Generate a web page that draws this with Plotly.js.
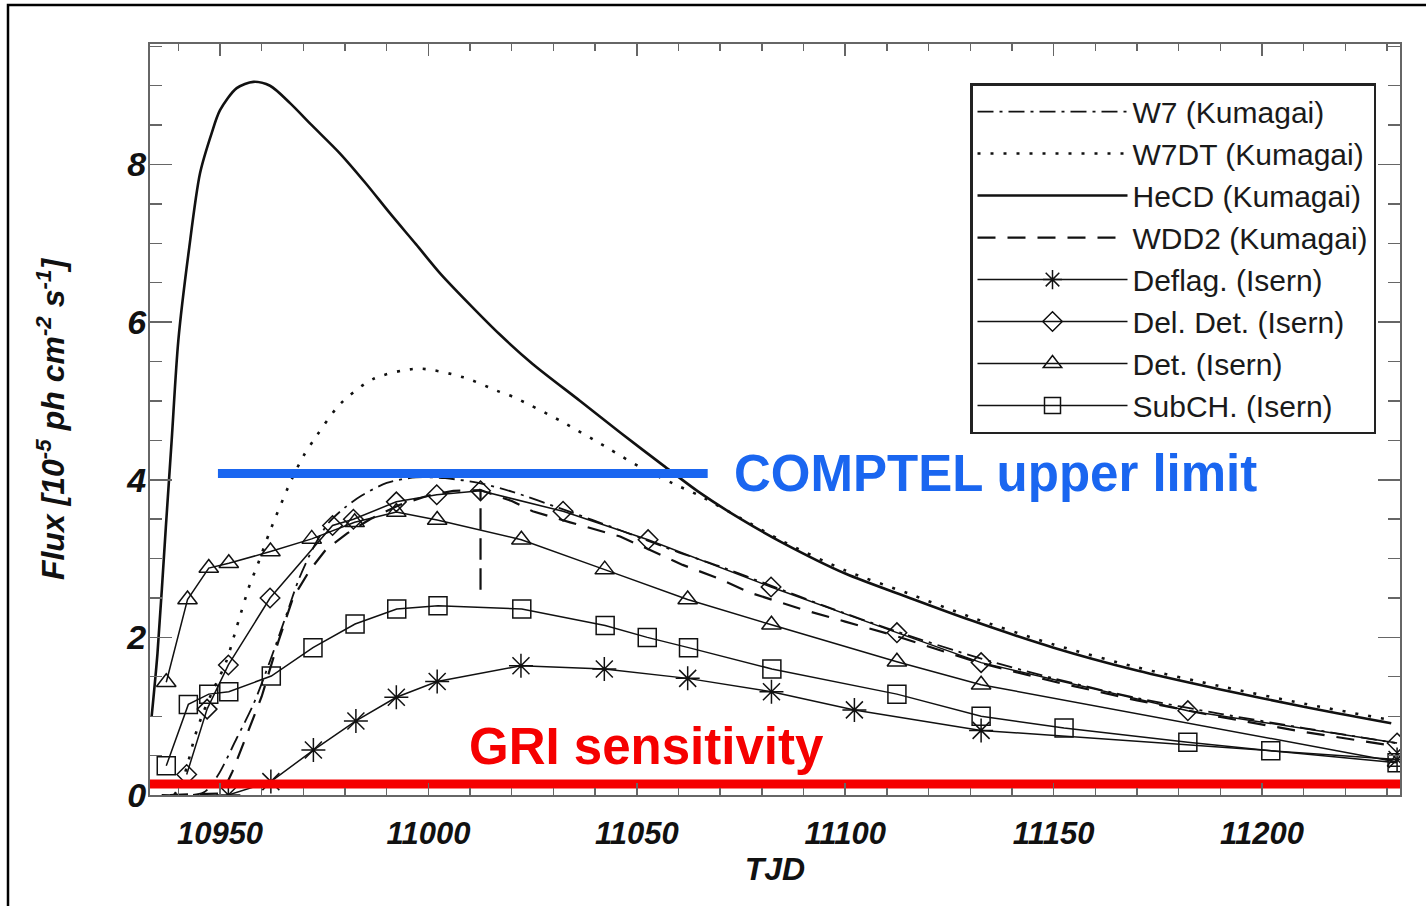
<!DOCTYPE html>
<html>
<head>
<meta charset="utf-8">
<script src="https://cdn.plot.ly/plotly-3.0.1.min.js"></script>
<style>html,body{margin:0;padding:0;background:#fff;}#chart{width:1426px;height:906px;}</style>
</head>
<body>
<div id="chart"></div>
<script>
// ---------- data (TJD, flux in 1e-5 ph cm^-2 s^-1) ----------
const w7X   = [10936, 10946, 10949.5, 10954, 10958, 10962, 10966, 10969, 10972.5, 10976, 10980, 10984, 10990, 10997, 11004, 11012, 11020, 11032, 11046, 11060, 11070, 11082, 11095, 11112, 11132, 11150, 11170, 11190, 11210, 11232];
const w7Y   = [0.0, 0.03, 0.25, 0.72, 1.15, 1.7, 2.3, 2.75, 3.15, 3.45, 3.65, 3.8, 3.96, 4.03, 4.02, 3.96, 3.85, 3.63, 3.36, 3.08, 2.9, 2.66, 2.4, 2.08, 1.74, 1.48, 1.23, 1.03, 0.85, 0.66];

const w7dtX = [10939, 10940.5, 10942, 10944, 10946, 10948.5, 10951.4, 10954, 10957.2, 10958.8, 10962, 10966.8, 10970, 10973.2, 10978.8, 10986.8, 10997.5, 11008.4, 11016.4, 11020.4, 11031.6, 11042.8, 11050.8, 11058.8, 11065, 11075, 11085, 11100, 11115, 11130, 11150, 11170, 11190, 11210, 11231];
const w7dtY = [0.0, 0.12, 0.35, 0.75, 1.05, 1.35, 1.68, 2.13, 2.68, 2.89, 3.35, 3.96, 4.3, 4.56, 4.96, 5.28, 5.41, 5.30, 5.13, 5.05, 4.75, 4.41, 4.16, 3.95, 3.8, 3.51, 3.22, 2.85, 2.56, 2.26, 1.91, 1.62, 1.38, 1.16, 0.95];

const hecdX = [10933.6, 10935, 10937, 10938.4, 10940, 10942.5, 10945.2, 10948, 10950, 10954, 10958, 10962, 10966.8, 10972, 10978.8, 10985, 10990.8, 10997, 11002.8, 11010, 11017.2, 11025, 11036.4, 11046, 11056.4, 11065, 11075, 11085, 11100, 11115, 11130, 11150, 11170, 11190, 11210, 11231];
const hecdY = [1.0, 1.8, 3.4, 4.5, 5.77, 6.9, 7.89, 8.4, 8.69, 8.97, 9.05, 9.0, 8.78, 8.5, 8.14, 7.76, 7.38, 6.99, 6.62, 6.22, 5.84, 5.47, 5.0, 4.6, 4.18, 3.84, 3.5, 3.2, 2.81, 2.51, 2.22, 1.87, 1.58, 1.34, 1.12, 0.91];

const wdd2X = [10938, 10950.5, 10953, 10956, 10960, 10964, 10967.5, 10971.5, 10975.5, 10980.5, 10986, 10993, 11000, 11006, 11012.5, 11012.5, 11012.5, 11020, 11025, 11034, 11046, 11061, 11070, 11077, 11090, 11100, 11112, 11132, 11150, 11170, 11190, 11210, 11232];
const wdd2Y = [0.0, 0.02, 0.3, 0.7, 1.25, 1.95, 2.5, 2.85, 3.12, 3.32, 3.5, 3.68, 3.8, 3.86, 3.87, 2.55, 3.87, 3.73, 3.6, 3.46, 3.28, 2.92, 2.74, 2.57, 2.35, 2.2, 2.02, 1.68, 1.44, 1.2, 0.99, 0.8, 0.62];

const deflagX = [10952, 10962.2, 10972.4, 10982.6, 10992.3, 11002.1, 11022.2, 11042.2, 11062.2, 11082.3, 11102.2, 11132.6, 11232.4];
const deflagY = [0.0, 0.17, 0.57, 0.94, 1.24, 1.44, 1.64, 1.60, 1.48, 1.31, 1.08, 0.82, 0.45];

const deldetX = [10942, 10946.9, 10952, 10962, 10977, 10982, 10992.3, 11002, 11012.5, 11032.3, 11052.7, 11082.2, 11112.4, 11132.6, 11182.2, 11232.4];
const deldetY = [0.26, 1.09, 1.65, 2.50, 3.42, 3.50, 3.72, 3.81, 3.86, 3.60, 3.24, 2.64, 2.06, 1.68, 1.07, 0.66];

const detX = [10937.1, 10942.2, 10947.3, 10952.1, 10962.1, 10972, 10982.3, 10992.3, 11002.1, 11022.3, 11042.3, 11062.2, 11082.3, 11112.4, 11132.6, 11232.4];
const detY = [1.43, 2.48, 2.88, 2.94, 3.09, 3.25, 3.46, 3.59, 3.49, 3.24, 2.86, 2.48, 2.16, 1.69, 1.40, 0.42];

const subchX = [10937.1, 10942.4, 10947.3, 10952.1, 10962.3, 10972.3, 10982.4, 10992.4, 11002.3, 11022.4, 11042.4, 11052.5, 11062.4, 11082.4, 11112.4, 11132.6, 11152.5, 11182.2, 11202.1, 11232.4];
const subchY = [0.37, 1.15, 1.28, 1.31, 1.51, 1.87, 2.17, 2.36, 2.40, 2.36, 2.15, 2.00, 1.87, 1.60, 1.28, 1.00, 0.85, 0.67, 0.56, 0.41];

const comptelX = [10949.5, 11067];
const comptelY = [4.08, 4.08];
const griX = [10933.2, 11233.1];
const griY = [0.14, 0.14];

const seriesNames = ["W7 (Kumagai)", "W7DT (Kumagai)", "HeCD (Kumagai)", "WDD2 (Kumagai)",
                     "Deflag. (Isern)", "Del. Det. (Isern)", "Det. (Isern)", "SubCH. (Isern)"];
const comptelLabel = "COMPTEL upper limit";
const griLabel = "GRI sensitivity";
const xRange = [10933.2, 11233.1];
const yRange = [0, 9.53];

// ---------- styling ----------
const ink = '#111';
const sans = '"Liberation Sans", Arial, sans-serif';

function kum(x, y, name, dash, w, shape) {
  return {x: x, y: y, name: name, type: 'scatter', mode: 'lines',
          line: {color: ink, width: w || 1.8, dash: dash, shape: shape || 'linear', smoothing: 0.8}};
}
function isern(x, y, name, sym, size) {
  return {x: x, y: y, name: name, type: 'scatter', mode: 'lines+markers',
          line: {color: ink, width: 1.5},
          marker: {symbol: sym, size: size, color: ink, line: {color: ink, width: 1.5}}};
}

const traces = [
  kum(w7X, w7Y, seriesNames[0], '16px,6px,3px,6px', 1.8, 'spline'),
  kum(w7dtX, w7dtY, seriesNames[1], '3px,10px', 2.6, 'spline'),
  kum(hecdX, hecdY, seriesNames[2], 'solid', 2.6, 'spline'),
  kum(wdd2X, wdd2Y, seriesNames[3], '18px,12px', 2.2, 'linear'),
  isern(deflagX, deflagY, seriesNames[4], 'asterisk-open', 20),
  isern(deldetX, deldetY, seriesNames[5], 'diamond-open', 15),
  isern(detX, detY, seriesNames[6], 'triangle-up-open', 17),
  isern(subchX, subchY, seriesNames[7], 'square-open', 18),
  {x: comptelX, y: comptelY, type: 'scatter', mode: 'lines', showlegend: false, hoverinfo: 'skip',
   line: {color: '#1a66f0', width: 9}},
  {x: griX, y: griY, type: 'scatter', mode: 'lines', showlegend: false, hoverinfo: 'skip',
   line: {color: '#f50000', width: 9}}
];

const axisCommon = {
  showgrid: false, zeroline: false, showline: true, linecolor: '#666', linewidth: 2,
  mirror: 'allticks', ticks: 'inside', tickcolor: '#666', tickwidth: 1.6
};

const layout = {
  width: 1426, height: 906,
  margin: {l: 150, r: 26, t: 44, b: 111},
  paper_bgcolor: '#fff', plot_bgcolor: '#fff',
  showlegend: true,
  xaxis: Object.assign({}, axisCommon, {
    range: xRange, dtick: 50, tick0: 10950, ticklen: 12, tickformat: 'd',
    minor: {dtick: 10, tick0: 10950, ticks: 'inside', ticklen: 7, tickcolor: '#666', tickwidth: 1.4},
    tickfont: {family: sans, size: 31, color: ink, weight: 'bold', style: 'italic'},
    ticklabelstandoff: 10,
    title: {text: 'TJD', standoff: 0, font: {family: sans, size: 32, color: ink, weight: 'bold', style: 'italic'}}
  }),
  yaxis: Object.assign({}, axisCommon, {
    range: yRange, dtick: 2, tick0: 0, ticklen: 22,
    minor: {dtick: 0.5, tick0: 0, ticks: 'inside', ticklen: 12, tickcolor: '#666', tickwidth: 1.4},
    tickfont: {family: sans, size: 34, color: ink, weight: 'bold', style: 'italic'},
    ticklabelstandoff: -5,
    title: {text: 'Flux [10<sup>-5</sup> ph cm<sup>-2</sup> s<sup>-1</sup>]', standoff: 52,
            font: {family: sans, size: 32, color: ink, weight: 'bold', style: 'italic'}}
  }),
  legend: {
    x: 0.656, y: 0.948, xanchor: 'left', yanchor: 'top',
    bgcolor: '#fff', bordercolor: '#222', borderwidth: 2.5,
    font: {family: sans, size: 30, color: '#1a1a1a'},
    itemwidth: 150, tracegroupgap: 0
  },
  annotations: [
    {x: comptelX[1], y: comptelY[0], xref: 'x', yref: 'y', text: comptelLabel, showarrow: false,
     xanchor: 'left', yanchor: 'middle', xshift: 24,
     font: {family: sans, size: 51, color: '#1a66f0', weight: 'bold'}},
    {x: 11009.3, y: 0.62, xref: 'x', yref: 'y', text: griLabel, showarrow: false,
     xanchor: 'left', yanchor: 'middle',
     font: {family: sans, size: 51, color: '#f50000', weight: 'bold'}}
  ],
  shapes: [
    {type: 'rect', xref: 'paper', yref: 'paper', x0: -0.1136, x1: 1.03, y0: -0.16, y1: 1.052,
     line: {color: '#000', width: 2.5}, fillcolor: 'rgba(0,0,0,0)', layer: 'below'}
  ]
};

Plotly.newPlot('chart', traces, layout, {displayModeBar: false, staticPlot: true});
</script>
</body>
</html>
